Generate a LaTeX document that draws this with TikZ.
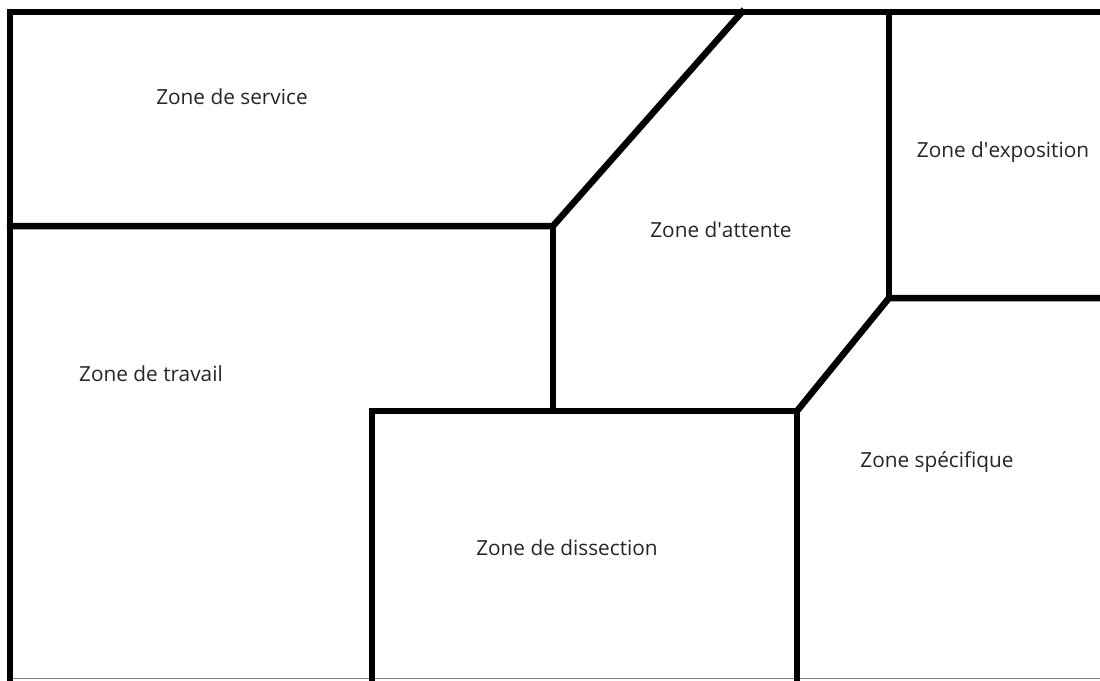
\documentclass[tikz,border=0pt]{standalone}
\usepackage{fontspec}
\setmainfont{Open Sans}
\begin{document}
\begin{tikzpicture}[x=1pt,y=-1pt,
  wall/.style={line width=6.5pt,line join=miter,line cap=rect,black},
  zone/.style={font=\fontsize{20.8}{25}\selectfont,text=black!85,inner sep=0pt,anchor=center}]
\useasboundingbox (0,0) rectangle (1100,680);
\fill[white] (0,0) rectangle (1100,680);
% thin bottom border
\draw[gray,line width=1.5pt] (10,678.5) -- (1100,678.5);
% outer walls
\draw[wall] (10,680) -- (10,12) -- (1100,12);
% zone de service / travail
\draw[wall] (10,226) -- (553,226) -- (742,12);
\draw[wall] (553,226) -- (553,411);
% zone de dissection
\draw[wall] (372,680) -- (372,411) -- (797,411) -- (797,680);
% zone spécifique / exposition
\draw[wall] (797,411) -- (889,298) -- (1100,298);
\draw[wall] (889,298) -- (889,12);
% labels
\node[zone] (service) at (232,97) {Zone de service};
\node[zone] (attente) at (721,230) {Zone d\textquotesingle attente};
\node[zone] (exposition) at (1003,152) {Zone d\textquotesingle exposition};
\node[zone] (travail) at (151,374) {Zone de travail};
\node[zone] (specifique) at (937,462) {Zone spécifique};
\node[zone] (dissection) at (567,548) {Zone de dissection};
\end{tikzpicture}
\end{document}
